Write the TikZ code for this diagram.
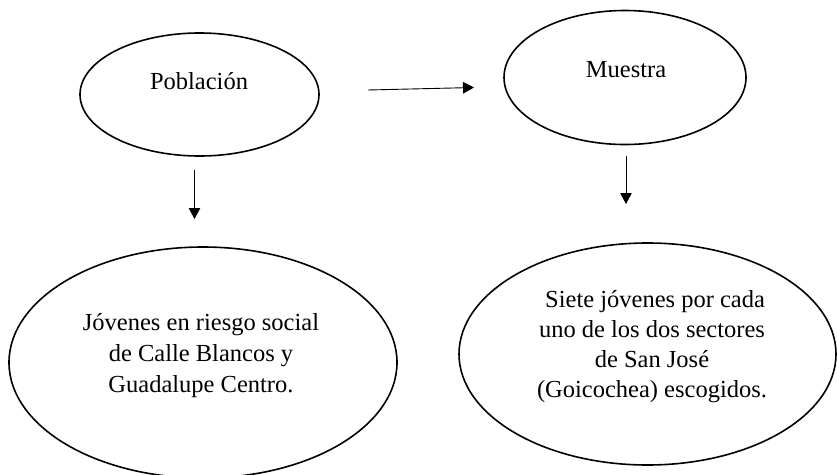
\documentclass[tikz,border=0pt]{standalone}
\usepackage{fontspec}
\setmainfont{Liberation Serif}
\usetikzlibrary{shapes.geometric,arrows.meta}

\tikzset{
  elipse/.style={draw,ellipse,line width=1.6pt,inner sep=0pt},
  flecha/.style={line width=0.9pt,-{Triangle[length=11pt,width=11.5pt]}},
  texto/.style={align=center,inner sep=0pt,font=\fontsize{24.5}{31}\selectfont}
}

\begin{document}
\begin{tikzpicture}[x=1pt,y=-1pt]
\useasboundingbox (0,0) rectangle (837,474);

% elipses
\node[elipse,minimum width=239pt,minimum height=123pt] (poblacion) at (199.5,94.5) {};
\node[elipse,minimum width=242pt,minimum height=134pt] (muestra) at (625,77.5) {};
\node[elipse,minimum width=388pt,minimum height=231pt] (jovenes) at (203,362.5) {};
\node[elipse,minimum width=377pt,minimum height=222pt] (siete) at (647.5,354) {};

% textos
\node[texto] (poblaciontxt) at (199,81.5) {Población};
\node[texto] (muestratxt) at (626,70) {Muestra};
\node[texto] (jovenestxt) at (201,356) {Jóvenes en riesgo social\\de Calle Blancos y\\Guadalupe Centro.};
\node[texto,font=\fontsize{24.5}{30}\selectfont] (sietetxt) at (652,347) {\ Siete jóvenes por cada\\uno de los dos sectores\\de San José\\(Goicochea) escogidos.};

% flechas
\coordinate (h1) at (368,90);
\coordinate (h2) at (474,87.5);
\coordinate (v1) at (194.5,170);
\coordinate (v2) at (194.5,219);
\coordinate (w1) at (626,156);
\coordinate (w2) at (626,204);
\draw[flecha] (h1) -- (h2);
\draw[flecha] (v1) -- (v2);
\draw[flecha] (w1) -- (w2);
\end{tikzpicture}
\end{document}
